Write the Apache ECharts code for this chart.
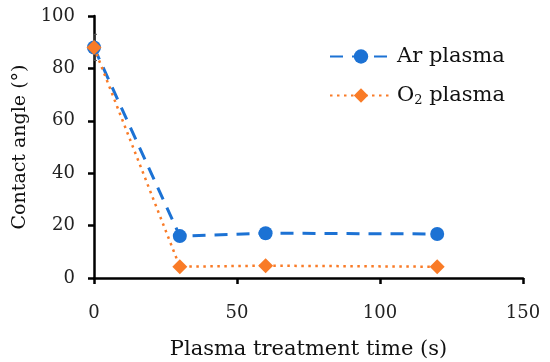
<!DOCTYPE html>
<html><head><meta charset="utf-8">
<script src="https://cdn.jsdelivr.net/npm/echarts@6/dist/echarts.min.js"></script>
<style>html,body{margin:0;padding:0;background:#fff}#c{width:550px;height:362px}</style>
</head><body><div id="c"></div>
<script>
const times = [0, 30, 60, 120];
const arPlasma = [88, 16, 17.1, 16.8];
const o2Plasma = [88, 4.3, 4.7, 4.3];
const arErr = [5, 0.8, 0.6, 1.5];
const xTicks = [0, 50, 100, 150];
const yTicks = [0, 20, 40, 60, 80, 100];

const FONT = '"DejaVu Serif", "Liberation Serif", serif';
const chart = echarts.init(document.getElementById('c'));
const errData = times.map((t, i) => [t, arPlasma[i] - arErr[i], arPlasma[i] + arErr[i]]);
chart.setOption({
  animation: false,
  backgroundColor: '#fff',
  grid: {left: 94, right: 27, top: 16, bottom: 84, containLabel: false, outerBoundsMode: 'none'},
  legend: {
    left: 324, top: 41, orient: 'vertical', itemGap: 18, itemWidth: 62, itemHeight: 18,
    textStyle: {fontFamily: FONT, fontSize: 21, color: '#111',
      rich: {sub: {fontFamily: FONT, fontSize: 13, verticalAlign: 'bottom', padding: [10,0,0,0], color:'#111'},
             n: {fontFamily: FONT, fontSize: 21, color:'#111'}}},
    formatter: n => n === 'O2 plasma' ? '{n|O}{sub|2}{n| plasma}' : n,
    data: ['Ar plasma', 'O2 plasma']
  },
  xAxis: {
    type: 'value', min: 0, max: 150, interval: 50,
    name: 'Plasma treatment time (s)', nameLocation: 'middle', nameGap: 61,
    nameTextStyle: {fontFamily: FONT, fontSize: 21, color: '#111'},
    axisLine: {show: true, lineStyle: {color: '#000', width: 2.5}},
    axisTick: {show: true, length: 6, lineStyle: {color: '#000', width: 2.5}},
    axisLabel: {fontFamily: FONT, fontSize: 18, color: '#222', margin: 26},
    splitLine: {show: false}
  },
  yAxis: {
    type: 'value', min: 0, max: 100, interval: 20,
    name: 'Contact angle (°)', nameLocation: 'middle', nameGap: 64,
    nameTextStyle: {fontFamily: FONT, fontSize: 19, color: '#111'},
    axisLine: {show: true, lineStyle: {color: '#000', width: 2.5}},
    axisTick: {show: true, length: 6, lineStyle: {color: '#000', width: 2.5}},
    axisLabel: {fontFamily: FONT, fontSize: 18, color: '#222', margin: 19},
    splitLine: {show: false}
  },
  series: [
    {
      type: 'custom', name: 'err', silent: true, z: 1,
      renderItem: (params, api) => {
        const x = api.value(0);
        const lo = api.coord([x, api.value(1)]);
        const hi = api.coord([x, api.value(2)]);
        const w = 3;
        return {type: 'group', children: [
          {type: 'line', shape: {x1: lo[0], y1: lo[1], x2: hi[0], y2: hi[1]}, style: {stroke: '#555', lineWidth: 1}},
          {type: 'line', shape: {x1: lo[0], y1: lo[1], x2: lo[0] + w, y2: lo[1]}, style: {stroke: '#555', lineWidth: 1}},
          {type: 'line', shape: {x1: hi[0], y1: hi[1], x2: hi[0] + w, y2: hi[1]}, style: {stroke: '#555', lineWidth: 1}}
        ]};
      },
      data: errData
    },
    {
      name: 'Ar plasma', type: 'line', z: 3,
      data: times.map((t, i) => [t, arPlasma[i]]),
      symbol: 'circle', symbolSize: 14,
      itemStyle: {color: '#1C72D4'},
      lineStyle: {color: '#1C72D4', width: 3, type: [13, 9]}
    },
    {
      name: 'O2 plasma', type: 'line', z: 4,
      data: times.map((t, i) => [t, o2Plasma[i]]),
      symbol: 'diamond', symbolSize: 15,
      itemStyle: {color: '#F97B27'},
      lineStyle: {color: '#F97B27', width: 2.5, type: [2.5, 4.5]}
    }
  ]
});
</script></body></html>
